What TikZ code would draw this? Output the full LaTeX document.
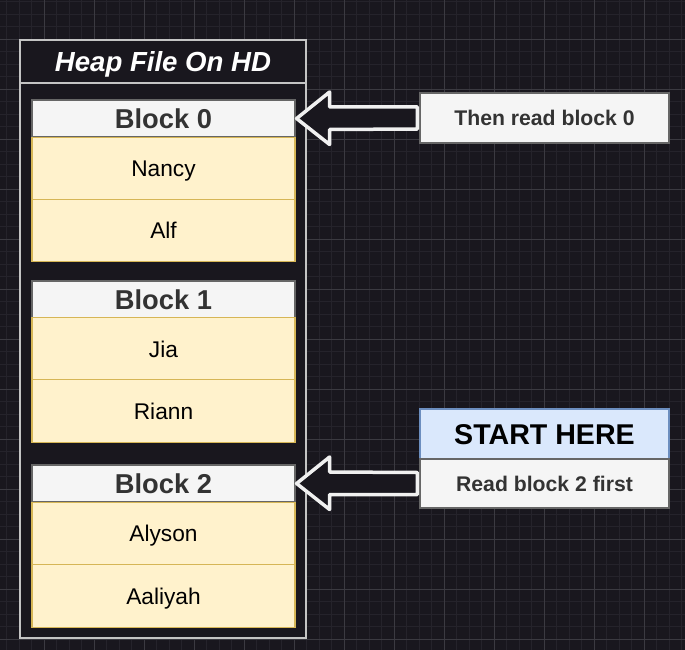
\documentclass[tikz,border=0pt]{standalone}
\usepackage{fontspec}
\setmainfont{Liberation Sans}
\usetikzlibrary{calc}
\definecolor{bgc}{HTML}{19171E}
\definecolor{gminorc}{HTML}{25232B}
\definecolor{gmajorc}{HTML}{3B3A41}
\definecolor{contc}{HTML}{C4C4C4}
\definecolor{hdrfill}{HTML}{F5F5F5}
\definecolor{hdrline}{HTML}{666666}
\definecolor{rowfill}{HTML}{FFF2CC}
\definecolor{rowline}{HTML}{D6B656}
\definecolor{bluefill}{HTML}{DAE8FC}
\definecolor{blueline}{HTML}{6C8EBF}
\definecolor{txtc}{HTML}{333333}
\tikzset{
  gminor/.style={draw=gminorc, line width=1pt},
  gmajor/.style={draw=gmajorc, line width=1pt},
  container/.style={draw=contc, fill=bgc, line width=1.5pt, minimum width=286pt, minimum height=598pt, inner sep=0pt},
  blockhdr/.style={draw=hdrline, fill=hdrfill, line width=1.2pt, minimum width=263pt, minimum height=37pt, inner sep=0pt, text=txtc, font=\fontsize{27.3}{30}\selectfont\bfseries, text height=19.7pt, text depth=0pt},
  rowbox/.style={draw=rowline, fill=rowfill, line width=1.2pt, minimum width=263pt, minimum height=62.5pt, inner sep=0pt, text=black, font=\fontsize{22.7}{26}\selectfont, text height=16.4pt, text depth=0pt},
  notebox/.style={draw=hdrline, fill=hdrfill, line width=1.2pt, minimum width=249pt, minimum height=50pt, inner sep=0pt, text=txtc, font=\fontsize{21.2}{25}\selectfont\bfseries, text height=15.3pt, text depth=0pt},
  startbox/.style={draw=blueline, fill=bluefill, line width=1.2pt, minimum width=249pt, minimum height=50pt, inner sep=0pt, text=black, font=\fontsize{28.6}{32}\selectfont\bfseries, text height=20.6pt, text depth=0pt},
  blockarrow/.style={draw=white!94!black, fill=bgc, line width=3.5pt, line join=round},
}
\begin{document}
\begin{tikzpicture}[x=1pt,y=-1pt]
\useasboundingbox (0,0) rectangle (685,650);
\fill[bgc] (0,0) rectangle (685,650);
% grid
\foreach \i in {0,...,54} {\pgfmathsetmacro\xx{6.5+12.5*\i}\draw[gminor] (\xx,0) -- (\xx,650);}
\foreach \i in {0,...,51} {\pgfmathsetmacro\yy{1.8+12.5*\i}\draw[gminor] (0,\yy) -- (685,\yy);}
\foreach \i in {0,...,12} {\pgfmathsetmacro\xx{44+50*\i}\draw[gmajor] (\xx,0) -- (\xx,650);}
\foreach \i in {0,...,12} {\pgfmathsetmacro\yy{39.3+50*\i}\draw[gmajor] (0,\yy) -- (685,\yy);}
% container
\node[container] (heap) at (163,339) {};
\coordinate (hl) at (0,83);
\draw[contc, line width=1.5pt] (heap.west |- hl) -- (heap.east |- hl);
\node[text=white, font=\fontsize{27.6}{30}\selectfont\bfseries\itshape, text height=19.9pt, text depth=0pt] (title) at (163,62) {Heap File On HD};
% block 0
\node[blockhdr] (b0h) at (163.5,118.5) {Block 0};
\node[rowbox] (nancy) at (163.5,168.5) {Nancy};
\node[rowbox] (alf) at (163.5,230.5) {Alf};
% block 1
\node[blockhdr] (b1h) at (163.5,299.5) {Block 1};
\node[rowbox] (jia) at (163.5,349) {Jia};
\node[rowbox] (riann) at (163.5,411) {Riann};
% block 2
\node[blockhdr] (b2h) at (163.5,483.5) {Block 2};
\node[rowbox] (alyson) at (163.5,533.5) {Alyson};
\node[rowbox] (aaliyah) at (163.5,596) {Aaliyah};
% right boxes
\node[notebox] (then) at (544.5,118) {Then read block 0};
\node[startbox] (start) at (544.5,434) {START HERE};
\node[notebox, minimum height=49pt] (read) at (544.5,483.5) {Read block 2 first};
% block arrows
\draw[blockarrow] ($(b0h.east)+(1,0)$) -- ++(33,-26.5) -- ++(0,15) -- ($(then.west)+(-2,-11)$) -- ++(0,22) -- ($(b0h.east)+(34,11)$) -- ++(0,15) -- cycle;
\draw[blockarrow] ($(b2h.east)+(1,0)$) -- ++(33,-26.5) -- ++(0,15) -- ($(read.west)+(-2,-11)$) -- ++(0,22) -- ($(b2h.east)+(34,11)$) -- ++(0,15) -- cycle;
\end{tikzpicture}
\end{document}
